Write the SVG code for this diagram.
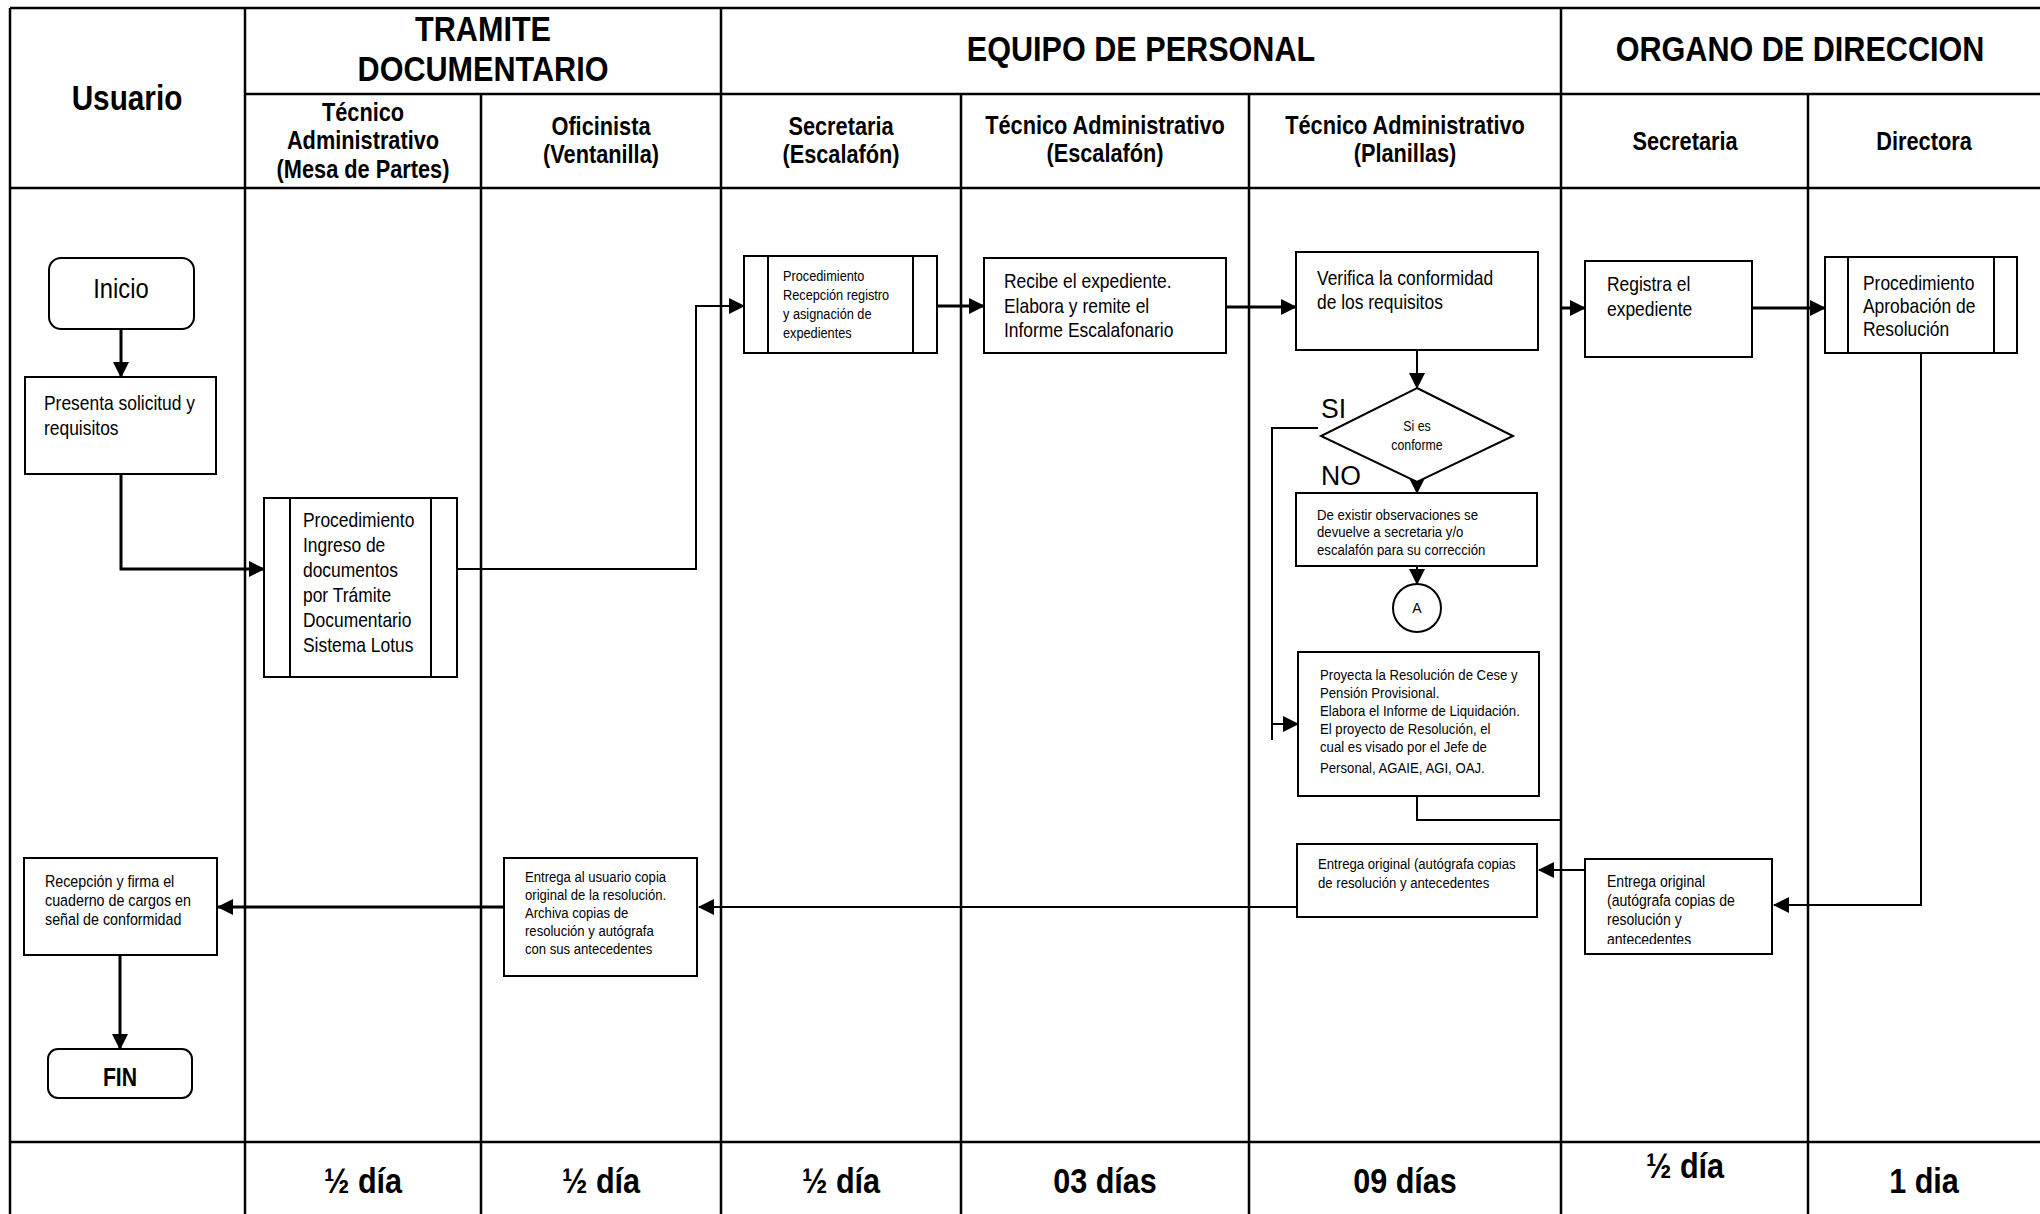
<svg xmlns="http://www.w3.org/2000/svg" width="2040" height="1214" viewBox="0 0 2040 1214">
  <style>
    .grid { fill: none; stroke: #000; stroke-width: 2.5; }
    .box { fill: #fff; stroke: #000; stroke-width: 2; }
    .inner { fill: none; stroke: #000; stroke-width: 2; }
    .wire { fill: none; stroke: #000; stroke-width: 2; }
    .wire-b { fill: none; stroke: #000; stroke-width: 3; }
    .hd { font-family: "Liberation Sans", Arial, sans-serif; font-weight: bold; fill: #000; }
    .tx { font-family: "Liberation Sans", Arial, sans-serif; fill: #000; }
  </style>
  <defs>
    <marker id="arrow" viewBox="0 0 16 16" refX="15" refY="8" markerWidth="16" markerHeight="16" markerUnits="userSpaceOnUse" orient="auto">
      <path d="M0,0 L16,8 L0,16 z" fill="#000"/>
    </marker>
    <clipPath id="clip-obs"><rect x="1296" y="493" width="241" height="64"/></clipPath>
    <clipPath id="clip-ent"><rect x="1585" y="859" width="187" height="85"/></clipPath>
  </defs>

  <rect width="2040" height="1214" fill="#fff"/>

  <!-- swimlane table -->
  <g id="lanes">
    <path class="grid" d="M10,8 H2040 M10,8 V1214 M245,94 H2040 M10,188 H2040 M10,1142 H2040"/>
    <path class="grid" d="M245,8 V1214 M721,8 V1214 M1561,8 V1214"/>
    <path class="grid" d="M481,94 V1214 M961,94 V1214 M1249,94 V1214 M1808,94 V1214"/>
  </g>

  <!-- lane headings -->
  <g id="headings">
    <text class="hd" font-size="35" text-anchor="middle" transform="translate(127 110) scale(.85 1)">Usuario</text>
    <text class="hd" font-size="36" text-anchor="middle" transform="translate(483 41) scale(.85 1)"><tspan x="0" y="0">TRAMITE</tspan><tspan x="0" y="40">DOCUMENTARIO</tspan></text>
    <text class="hd" font-size="36" text-anchor="middle" transform="translate(1141 61) scale(.85 1)">EQUIPO DE PERSONAL</text>
    <text class="hd" font-size="36" text-anchor="middle" transform="translate(1800 61) scale(.85 1)">ORGANO DE DIRECCION</text>

    <text class="hd" font-size="25" text-anchor="middle" transform="translate(363 121) scale(.87 1)"><tspan x="0" y="0">Técnico</tspan><tspan x="0" y="28.5">Administrativo</tspan><tspan x="0" y="57">(Mesa de Partes)</tspan></text>
    <text class="hd" font-size="25" text-anchor="middle" transform="translate(601 135) scale(.87 1)"><tspan x="0" y="0">Oficinista</tspan><tspan x="0" y="28.5">(Ventanilla)</tspan></text>
    <text class="hd" font-size="25" text-anchor="middle" transform="translate(841 135) scale(.87 1)"><tspan x="0" y="0">Secretaria</tspan><tspan x="0" y="28.5">(Escalafón)</tspan></text>
    <text class="hd" font-size="25" text-anchor="middle" transform="translate(1105 134) scale(.87 1)"><tspan x="0" y="0">Técnico Administrativo</tspan><tspan x="0" y="28.5">(Escalafón)</tspan></text>
    <text class="hd" font-size="25" text-anchor="middle" transform="translate(1405 134) scale(.87 1)"><tspan x="0" y="0">Técnico Administrativo</tspan><tspan x="0" y="28.5">(Planillas)</tspan></text>
    <text class="hd" font-size="25" text-anchor="middle" transform="translate(1685 150) scale(.87 1)">Secretaria</text>
    <text class="hd" font-size="25" text-anchor="middle" transform="translate(1924 150) scale(.87 1)">Directora</text>
  </g>

  <!-- durations -->
  <g id="durations">
    <text class="hd" font-size="36" text-anchor="middle" transform="translate(363 1193) scale(.85 1)">½ día</text>
    <text class="hd" font-size="36" text-anchor="middle" transform="translate(601 1193) scale(.85 1)">½ día</text>
    <text class="hd" font-size="36" text-anchor="middle" transform="translate(841 1193) scale(.85 1)">½ día</text>
    <text class="hd" font-size="36" text-anchor="middle" transform="translate(1105 1193) scale(.85 1)">03 días</text>
    <text class="hd" font-size="36" text-anchor="middle" transform="translate(1405 1193) scale(.85 1)">09 días</text>
    <text class="hd" font-size="36" text-anchor="middle" transform="translate(1685 1178) scale(.85 1)">½ día</text>
    <text class="hd" font-size="36" text-anchor="middle" transform="translate(1924 1193) scale(.85 1)">1 dia</text>
  </g>

  <!-- connectors -->
  <g id="connectors">
    <path class="wire-b" d="M121,329 V377" marker-end="url(#arrow)"/>
    <path class="wire-b" d="M121,474 V569 H264" marker-end="url(#arrow)"/>
    <path class="wire" d="M457,569 H696 V306 H744" marker-end="url(#arrow)"/>
    <path class="wire-b" d="M937,306 H984" marker-end="url(#arrow)"/>
    <path class="wire-b" d="M1226,307 H1296" marker-end="url(#arrow)"/>
    <path class="wire" d="M1417,342 V388" marker-end="url(#arrow)"/>
    <path class="wire" d="M1417,472 V493" marker-end="url(#arrow)"/>
    <path class="wire" d="M1417,560 V584" marker-end="url(#arrow)"/>
    <path class="wire" d="M1318,428 H1272 V740"/>
    <path class="wire" d="M1272,724 H1298" marker-end="url(#arrow)"/>
    <path class="wire" d="M1417,796 V820 H1561"/>
    <path class="wire-b" d="M1562,308 H1585" marker-end="url(#arrow)"/>
    <path class="wire-b" d="M1752,308 H1825" marker-end="url(#arrow)"/>
    <path class="wire" d="M1921,353 V905 H1774" marker-end="url(#arrow)"/>
    <path class="wire" d="M1585,870 H1539" marker-end="url(#arrow)"/>
    <path class="wire" d="M1297,907 H699" marker-end="url(#arrow)"/>
    <path class="wire-b" d="M504,907 H218" marker-end="url(#arrow)"/>
    <path class="wire-b" d="M120,955 V1049" marker-end="url(#arrow)"/>
  </g>

  <!-- nodes -->
  <g id="inicio">
    <rect class="box" x="49" y="258" width="145" height="71" rx="12"/>
    <text class="tx" font-size="28" text-anchor="middle" transform="translate(121 298) scale(.85 1)">Inicio</text>
  </g>

  <g id="presenta">
    <rect class="box" x="25" y="377" width="191" height="97"/>
    <text class="tx" font-size="20.5" transform="translate(44 410) scale(.85 1)"><tspan x="0" y="0">Presenta solicitud y</tspan><tspan x="0" y="25">requisitos</tspan></text>
  </g>

  <g id="ingreso">
    <rect class="box" x="264" y="498" width="193" height="179"/>
    <path class="inner" d="M290,498 V677 M431,498 V677"/>
    <text class="tx" font-size="20.5" transform="translate(303 527) scale(.85 1)"><tspan x="0" y="0">Procedimiento</tspan><tspan x="0" y="25">Ingreso de</tspan><tspan x="0" y="50">documentos</tspan><tspan x="0" y="75">por Trámite</tspan><tspan x="0" y="100">Documentario</tspan><tspan x="0" y="125">Sistema Lotus</tspan></text>
  </g>

  <g id="recepcion-registro">
    <rect class="box" x="744" y="256" width="193" height="97"/>
    <path class="inner" d="M768,256 V353 M913,256 V353"/>
    <text class="tx" font-size="15" transform="translate(783 281) scale(.85 1)"><tspan x="0" y="0">Procedimiento</tspan><tspan x="0" y="19">Recepción registro</tspan><tspan x="0" y="38">y asignación de</tspan><tspan x="0" y="57">expedientes</tspan></text>
  </g>

  <g id="recibe">
    <rect class="box" x="984" y="258" width="242" height="95"/>
    <text class="tx" font-size="20.5" transform="translate(1004 288) scale(.85 1)"><tspan x="0" y="0">Recibe el expediente.</tspan><tspan x="0" y="25">Elabora y remite el</tspan><tspan x="0" y="49">Informe Escalafonario</tspan></text>
  </g>

  <g id="verifica">
    <rect class="box" x="1296" y="252" width="242" height="98"/>
    <text class="tx" font-size="20.5" transform="translate(1317 285) scale(.85 1)"><tspan x="0" y="0">Verifica la conformidad</tspan><tspan x="0" y="24">de los requisitos</tspan></text>
  </g>

  <g id="decision">
    <polygon class="box" points="1417,388 1513,436 1417,482 1321,436"/>
    <text class="tx" font-size="14.5" text-anchor="middle" transform="translate(1417 431) scale(.85 1)"><tspan x="0" y="0">Si es</tspan><tspan x="0" y="19">conforme</tspan></text>
    <text class="tx" font-size="28" transform="translate(1321 418) scale(.95 1)">SI</text>
    <text class="tx" font-size="28" transform="translate(1321 485) scale(.95 1)">NO</text>
  </g>

  <g id="observaciones">
    <rect class="box" x="1296" y="493" width="241" height="73"/>
    <g clip-path="url(#clip-obs)">
      <text class="tx" font-size="15.5" transform="translate(1317 520) scale(.85 1)"><tspan x="0" y="0">De existir observaciones se</tspan><tspan x="0" y="17.5">devuelve a secretaria y/o</tspan><tspan x="0" y="35">escalafón para su corrección</tspan></text>
    </g>
  </g>

  <g id="conector-a">
    <circle class="box" cx="1417" cy="608" r="24"/>
    <text class="tx" font-size="14" text-anchor="middle" x="1417" y="613">A</text>
  </g>

  <g id="proyecta">
    <rect class="box" x="1298" y="652" width="241" height="144"/>
    <text class="tx" font-size="15.5" transform="translate(1320 680) scale(.85 1)"><tspan x="0" y="0">Proyecta la Resolución de Cese y</tspan><tspan x="0" y="18">Pensión Provisional.</tspan><tspan x="0" y="36">Elabora el Informe de Liquidación.</tspan><tspan x="0" y="54">El proyecto de Resolución,  el</tspan><tspan x="0" y="72">cual es visado por el Jefe de</tspan><tspan x="0" y="93">Personal, AGAIE, AGI, OAJ.</tspan></text>
  </g>

  <g id="registra">
    <rect class="box" x="1585" y="261" width="167" height="96"/>
    <text class="tx" font-size="20.5" transform="translate(1607 291) scale(.85 1)"><tspan x="0" y="0">Registra el</tspan><tspan x="0" y="25">expediente</tspan></text>
  </g>

  <g id="aprobacion">
    <rect class="box" x="1825" y="257" width="192" height="96"/>
    <path class="inner" d="M1848,257 V353 M1994,257 V353"/>
    <text class="tx" font-size="20.5" transform="translate(1863 290) scale(.85 1)"><tspan x="0" y="0">Procedimiento</tspan><tspan x="0" y="23">Aprobación de</tspan><tspan x="0" y="46">Resolución</tspan></text>
  </g>

  <g id="entrega-secretaria">
    <rect class="box" x="1585" y="859" width="187" height="95"/>
    <g clip-path="url(#clip-ent)">
      <text class="tx" font-size="16.5" transform="translate(1607 887) scale(.85 1)"><tspan x="0" y="0">Entrega original</tspan><tspan x="0" y="19">(autógrafa copias de</tspan><tspan x="0" y="38.5">resolución y</tspan><tspan x="0" y="58">antecedentes</tspan></text>
    </g>
  </g>

  <g id="entrega-planillas">
    <rect class="box" x="1297" y="844" width="240" height="73"/>
    <text class="tx" font-size="15.5" transform="translate(1318 869) scale(.85 1)"><tspan x="0" y="0">Entrega original (autógrafa copias</tspan><tspan x="0" y="19">de resolución y antecedentes</tspan></text>
  </g>

  <g id="entrega-usuario">
    <rect class="box" x="504" y="858" width="193" height="118"/>
    <text class="tx" font-size="15.4" transform="translate(525 882) scale(.85 1)"><tspan x="0" y="0">Entrega al usuario copia</tspan><tspan x="0" y="18">original de la resolución.</tspan><tspan x="0" y="36">Archiva copias de</tspan><tspan x="0" y="54">resolución y autógrafa</tspan><tspan x="0" y="72">con sus antecedentes</tspan></text>
  </g>

  <g id="recepcion-firma">
    <rect class="box" x="24" y="858" width="193" height="97"/>
    <text class="tx" font-size="16.8" transform="translate(45 887) scale(.85 1)"><tspan x="0" y="0">Recepción y firma el</tspan><tspan x="0" y="19">cuaderno de cargos en</tspan><tspan x="0" y="38">señal de conformidad</tspan></text>
  </g>

  <g id="fin">
    <rect class="box" x="48" y="1049" width="144" height="49" rx="10"/>
    <text class="hd" font-size="25" text-anchor="middle" transform="translate(120 1086) scale(.85 1)">FIN</text>
  </g>
</svg>
